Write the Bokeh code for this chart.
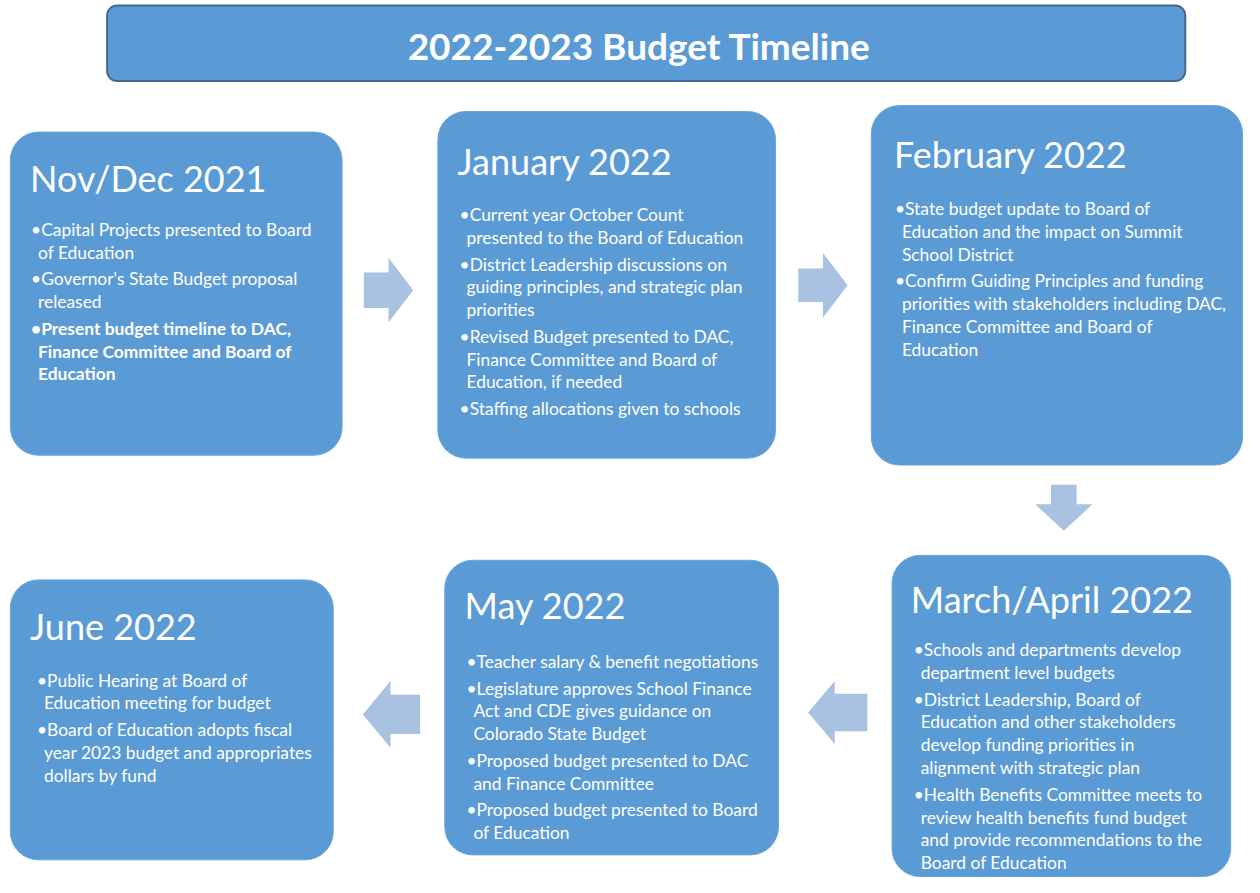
from bokeh.plotting import figure
from bokeh.models import Range1d
from bokeh.core.properties import value
from bokeh.embed import file_html
from bokeh.resources import INLINE

# ---------------- content ----------------
MAIN_TITLE = "2022-2023 Budget Timeline"

BOX_TITLES = ["Nov/Dec 2021", "January 2022", "February 2022",
              "March/April 2022", "May 2022", "June 2022"]

BOX_ITEMS = [
    [["Capital Projects presented to Board", "of Education"],
     ["Governor's State Budget proposal", "released"],
     ["Present budget timeline to DAC,", "Finance Committee and Board of", "Education"]],
    [["Current year October Count", "presented to the Board of Education"],
     ["District Leadership discussions on", "guiding principles, and strategic plan", "priorities"],
     ["Revised Budget presented to DAC,", "Finance Committee and Board of", "Education, if needed"],
     ["Staffing allocations given to schools"]],
    [["State budget update to Board of", "Education and the impact on Summit", "School District"],
     ["Confirm Guiding Principles and funding", "priorities with stakeholders including DAC,",
      "Finance Committee and Board of", "Education"]],
    [["Schools and departments develop", "department level budgets"],
     ["District Leadership, Board of", "Education and other stakeholders",
      "develop funding priorities in", "alignment with strategic plan"],
     ["Health Benefits Committee meets to", "review health benefits fund budget",
      "and provide recommendations to the", "Board of Education"]],
    [["Teacher salary & benefit negotiations"],
     ["Legislature approves School Finance", "Act and CDE gives guidance on", "Colorado State Budget"],
     ["Proposed budget presented to DAC", "and Finance Committee"],
     ["Proposed budget presented to Board", "of Education"]],
    [["Public Hearing at Board of", "Education meeting for budget"],
     ["Board of Education adopts fiscal", "year 2023 budget and appropriates", "dollars by fund"]],
]
BOLD_ITEMS = [(0, 2)]

# ---------------- layout ----------------
W, H = 1244, 877          # canvas pixels
DW, DH = 1260, 893        # design space (reference pixels)

BOX_FILL = "#5b9bd5"
ARROW_FILL = "#a9c2e2"
TITLE_LINE = "#44698c"

BOX_RECTS = [(10, 346, 134, 463), (443, 785, 113, 466), (882, 1258, 107, 473),
             (903, 1246, 565, 892), (450, 788, 570, 870), (10, 337, 590, 875)]
TITLE_POS = [(30, 181), (463, 163), (905, 156), (922, 609), (470, 616), (30, 637)]
BODY_POS = [(31, 233), (465, 218), (906, 212), (925, 661), (472, 673), (37, 692)]
LINE_H = 23.2
ITEM_GAP = 4.0
INDENT = 7

# arrows: (direction, tail, tip, head_base, shaft_half, head_half, center)
ARROWS = [("h", 368, 418, 393, 18, 33, 295),
          ("h", 808, 858, 833, 17, 33, 290),
          ("v", 493, 540, 513, 13, 29, 1077),
          ("h", 878, 818, 845, 19, 32, 725),
          ("h", 425, 367, 395, 20, 34, 727)]

p = figure(width=W, height=H, output_backend="svg", toolbar_location=None,
           x_range=Range1d(0, DW), y_range=Range1d(DH, 0),
           min_border=0, outline_line_color=None, background_fill_color="white",
           border_fill_color="white")
p.axis.visible = False
p.grid.visible = False

# title bar
p.quad(left=[108], right=[1200], top=[5], bottom=[82], fill_color=BOX_FILL,
       line_color=TITLE_LINE, line_width=2, border_radius=10)
p.text(x=[647], y=[46], text=[MAIN_TITLE], text_font=value("Lato"),
       text_font_size=value("37px"), text_font_style="bold", text_color="white",
       text_align="center", text_baseline="middle")

# boxes
p.quad(left=[r[0] for r in BOX_RECTS], right=[r[1] for r in BOX_RECTS],
       top=[r[2] for r in BOX_RECTS], bottom=[r[3] for r in BOX_RECTS],
       fill_color=BOX_FILL, line_color="#6aa5db", line_width=1, border_radius=28)

# arrows
xs, ys = [], []
for d, tail, tip, hb, sh, hh, c in ARROWS:
    a = [tail, hb, hb, tip, hb, hb, tail]
    b = [c - sh, c - sh, c - hh, c, c + hh, c + sh, c + sh]
    if d == "h":
        xs.append(a); ys.append(b)
    else:
        xs.append(b); ys.append(a)
p.patches(xs, ys, fill_color=ARROW_FILL, line_color=None)

# box titles
p.text(x=[t[0] for t in TITLE_POS], y=[t[1] for t in TITLE_POS], text=BOX_TITLES,
       text_font=value("Lato"), text_font_size=value("36px"), text_color="white",
       text_align="left", text_baseline="middle")

# body text
norm = {"x": [], "y": [], "t": []}
bold = {"x": [], "y": [], "t": []}
for bi, items in enumerate(BOX_ITEMS):
    bx, by = BODY_POS[bi]
    y = by
    for ii, lines in enumerate(items):
        tgt = bold if (bi, ii) in BOLD_ITEMS else norm
        for li, line in enumerate(lines):
            tgt["x"].append(bx if li == 0 else bx + INDENT)
            tgt["y"].append(y)
            tgt["t"].append(("\u2022" + line) if li == 0 else line)
            y += LINE_H
        y += ITEM_GAP

p.text(x=norm["x"], y=norm["y"], text=norm["t"], text_font=value("Lato"),
       text_font_size=value("17.4px"), text_color="white", text_align="left",
       text_baseline="middle")
p.text(x=bold["x"], y=bold["y"], text=bold["t"], text_font=value("Lato"),
       text_font_size=value("17.4px"), text_font_style="bold", text_color="white",
       text_align="left", text_baseline="middle")

open("out.html", "w").write(file_html(p, INLINE))
